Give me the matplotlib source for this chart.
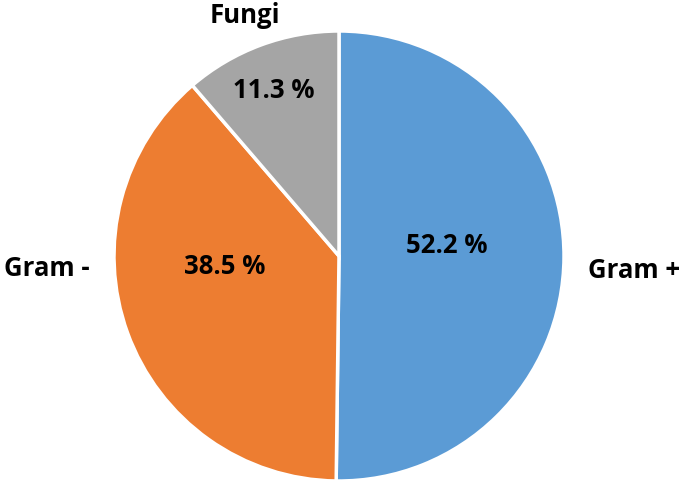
import matplotlib.pyplot as plt

labels = ['Gram +', 'Gram -', 'Fungi']
# wedge sizes as drawn (blue wedge is ~half the pie); the printed label says 52.2
values = [50.2, 38.5, 11.3]
pct_labels = ['52.2 %', '38.5 %', '11.3 %']
colors = ['#5B9BD5', '#ED7D31', '#A5A5A5']

# where the category names and percentages sit (data coords, pie radius = 1)
label_pos = [(1.31, -0.06), (-1.30, -0.05), (-0.42, 1.075)]
pct_pos = [(0.48, 0.05), (-0.51, -0.04), (-0.29, 0.74)]

plt.rcParams['font.family'] = ['Open Sans', 'DejaVu Sans']

fig = plt.figure(figsize=(6.85, 4.85), dpi=100)
ax = fig.add_axes([114 / 685, 3 / 485, 450 / 685, 450 / 485])
ax.pie(values, colors=colors, startangle=90, counterclock=False,
       wedgeprops=dict(edgecolor='white', linewidth=2.5))
ax.set_xlim(-1, 1)
ax.set_ylim(-1, 1)
ax.set_aspect('equal')
ax.axis('off')

for lab, pct, (lx, ly), (px, py) in zip(labels, pct_labels, label_pos, pct_pos):
    ax.text(lx, ly, lab, ha='center', va='center', fontsize=18.5,
            fontweight='bold', clip_on=False)
    ax.text(px, py, pct, ha='center', va='center', fontsize=18.5,
            fontweight='bold', clip_on=False)

fig.savefig('out.png', dpi=100)
